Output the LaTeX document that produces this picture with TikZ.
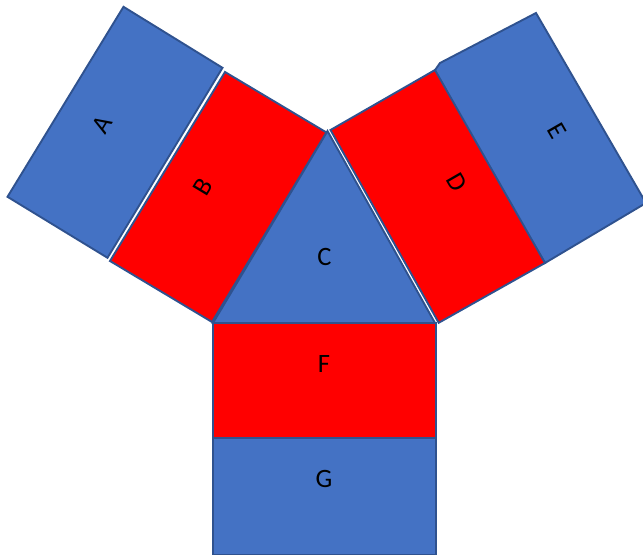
\documentclass[tikz,border=0pt]{standalone}
\usepackage{fontspec}
\setmainfont{Carlito}
\definecolor{fillblue}{HTML}{4472C4}
\definecolor{fillred}{HTML}{FF0000}
\definecolor{edgeblue}{HTML}{2F528F}
\begin{document}
\begin{tikzpicture}[x=1pt,y=-1pt,
  face/.style={draw=edgeblue, line width=1.9pt, line join=miter},
  bluef/.style={face, fill=fillblue},
  redf/.style={face, fill=fillred},
  lab/.style={font=\fontsize{26.5}{30}\selectfont, inner sep=0pt, text=black}]
\useasboundingbox (0,0) rectangle (643,556);
\clip (0,0) rectangle (643,556);
% E (outer right)
\draw[bluef] (440,63) -- (536,13) -- (646,203) -- (545,263) -- (433,73) -- cycle;
% A (outer left)
\draw[bluef] (123.5,6.8) -- (222.5,67.8) -- (107.5,257.8) -- (7.5,196.8) -- cycle;
% B (left side)
\draw[redf] (225,72) -- (326.5,132.5) -- (212,322) -- (110,261) -- cycle;
% D (right side)
\draw[redf] (330.5,130) -- (435,70) -- (545,263) -- (438.7,322.8) -- cycle;
% C (triangle)
\draw[bluef] (327.5,131) -- (435,323) -- (213,323) -- cycle;
% F and G
\draw[redf] (213,323) rectangle (436,438);
\draw[bluef] (213,438) rectangle (436,554.5);
% labels
\node[lab, rotate=59] (la) at (102,125) {A};
\node[lab, rotate=59] (lb) at (203,187) {B};
\node[lab] (lc) at (324.5,257) {C};
\node[lab, rotate=-60] (ld) at (457,182) {D};
\node[lab, rotate=-60] (le) at (557,131) {E};
\node[lab] (lf) at (324,363.5) {F};
\node[lab] (lg) at (324,479) {G};
\end{tikzpicture}
\end{document}
